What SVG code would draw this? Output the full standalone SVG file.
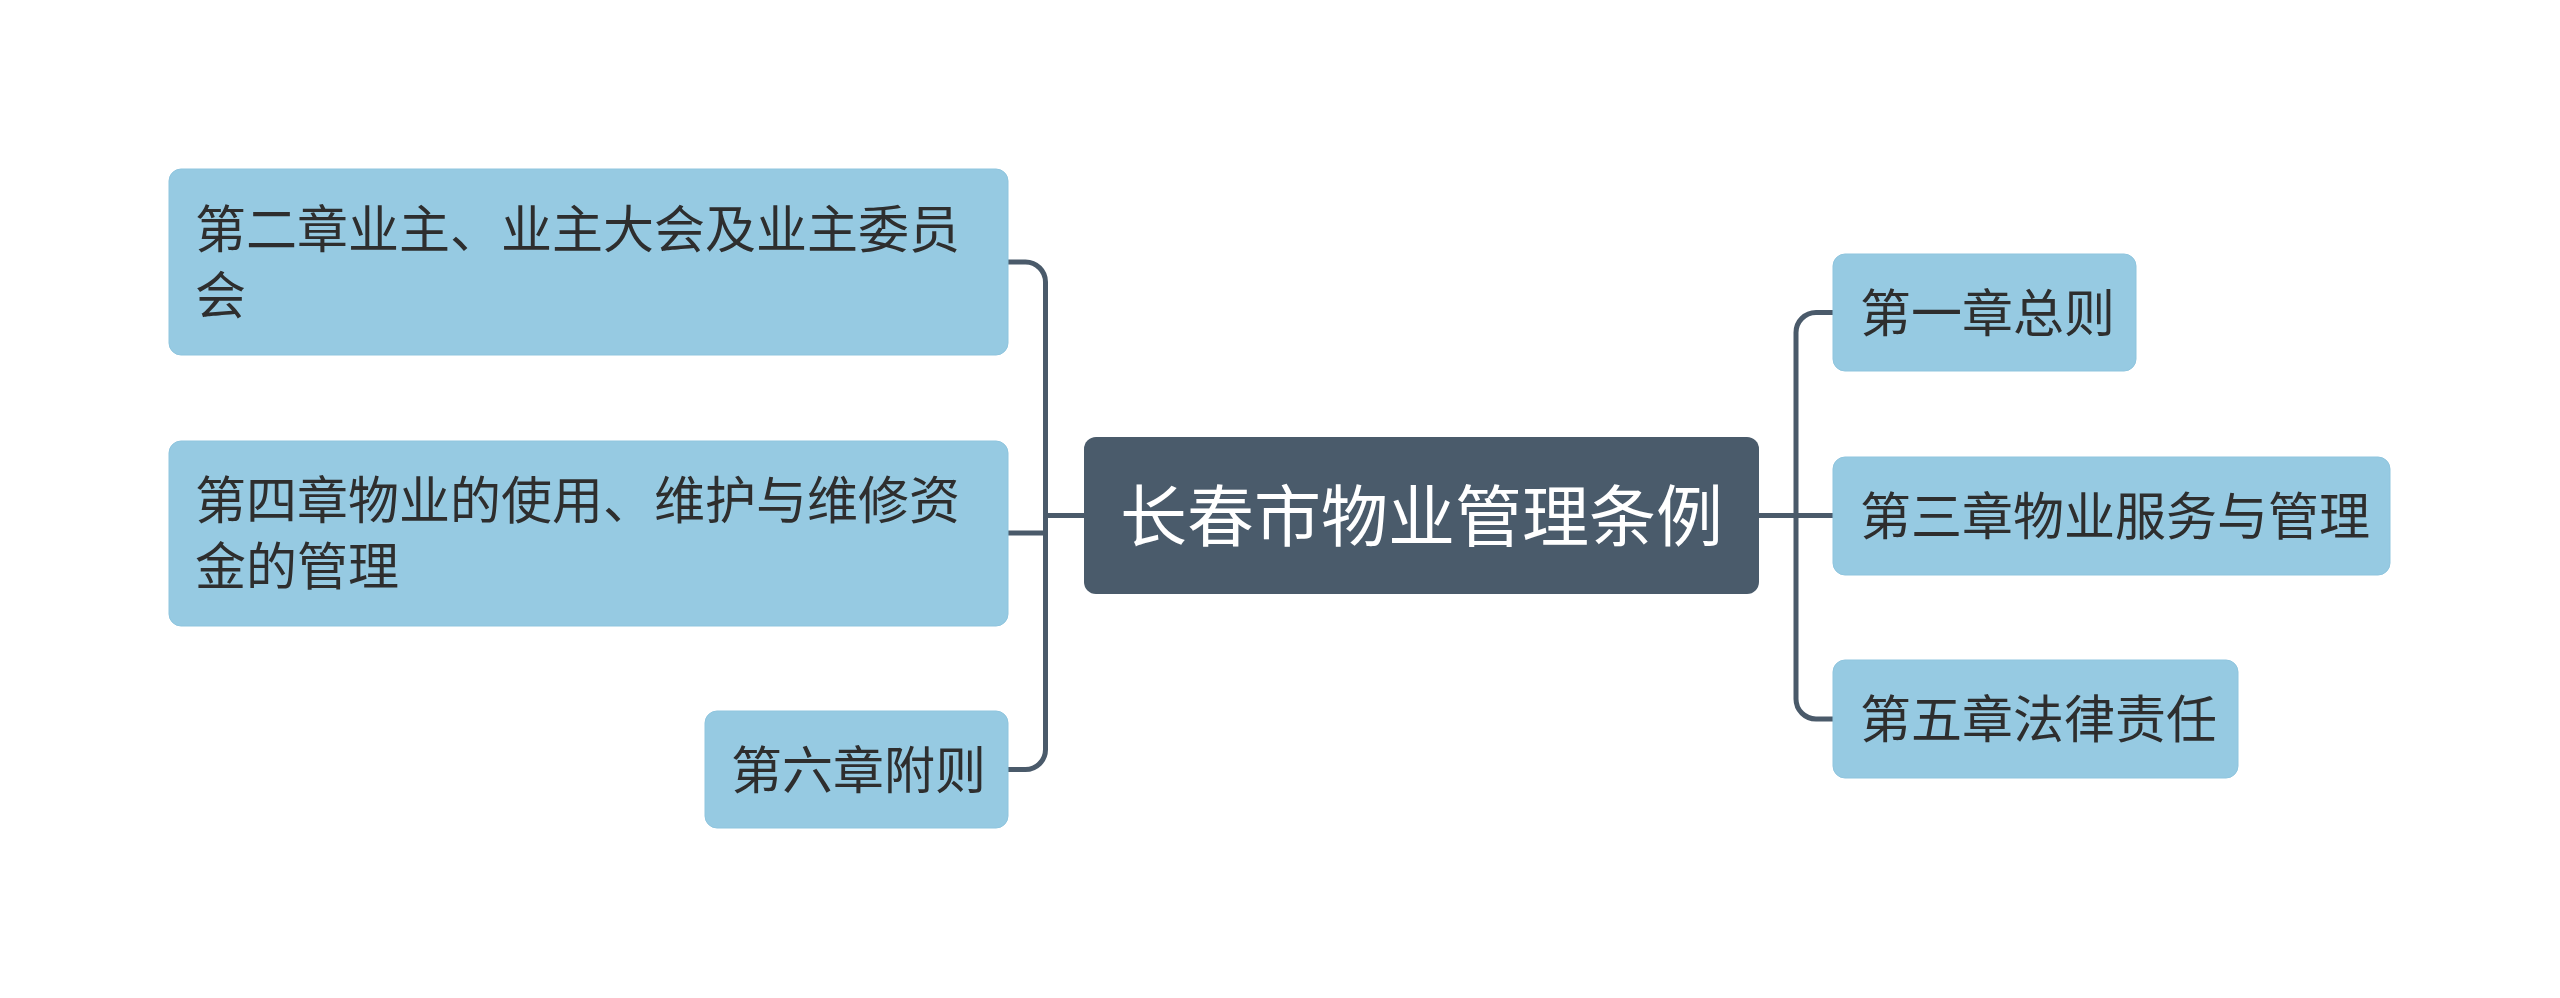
<svg xmlns="http://www.w3.org/2000/svg" width="2560" height="998" viewBox="0 0 2560 998">
<style>
.node rect{fill:#96cae2;stroke:#8fc5de;stroke-width:1}
.node text{font-family:"Noto Sans CJK SC","Noto Sans",sans-serif;font-size:51px;fill:#2e2e2e}
.root rect{fill:#4a5b6b}
.root text{font-family:"Noto Sans CJK SC","Noto Sans",sans-serif;font-size:67px;fill:#ffffff}
.conn path{fill:none;stroke:#4a5a6a;stroke-width:5;stroke-linecap:butt}
</style>
<rect width="2560" height="998" fill="#ffffff"/>
<g id="connectors" class="conn">
<path d="M1008,262 H1025.5 A20,20 0 0 1 1045.5,282 V749.5 A20,20 0 0 1 1025.5,769.5 H1008"/>
<path d="M1008,533 H1045.5"/>
<path d="M1045.5,515.5 H1084"/>
<path d="M1833,312.5 H1816 A20,20 0 0 0 1796,332.5 V699 A20,20 0 0 0 1816,719 H1833"/>
<path d="M1758,515.5 H1833"/>
</g>
<g id="root" class="root">
<rect x="1084" y="437" width="675" height="157" rx="12"/>
<text x="1421.5" y="541" text-anchor="middle">长春市物业管理条例</text>
</g>
<g id="n-ch2" class="node">
<rect x="169" y="169" width="839" height="186" rx="12"/>
<text x="195" y="248"><tspan x="195" y="248">第二章业主、业主大会及业主委员</tspan><tspan x="195" y="314">会</tspan></text>
</g>
<g id="n-ch4" class="node">
<rect x="169" y="441" width="839" height="185" rx="12"/>
<text x="195" y="519"><tspan x="195" y="519">第四章物业的使用、维护与维修资</tspan><tspan x="195" y="585">金的管理</tspan></text>
</g>
<g id="n-ch6" class="node">
<rect x="705" y="711" width="303" height="117" rx="12"/>
<text x="731" y="788.5">第六章附则</text>
</g>
<g id="n-ch1" class="node">
<rect x="1833" y="254" width="303" height="117" rx="12"/>
<text x="1860" y="331.5">第一章总则</text>
</g>
<g id="n-ch3" class="node">
<rect x="1833" y="457" width="557" height="118" rx="12"/>
<text x="1860" y="535">第三章物业服务与管理</text>
</g>
<g id="n-ch5" class="node">
<rect x="1833" y="660" width="405" height="118" rx="12"/>
<text x="1860" y="738">第五章法律责任</text>
</g>
</svg>
